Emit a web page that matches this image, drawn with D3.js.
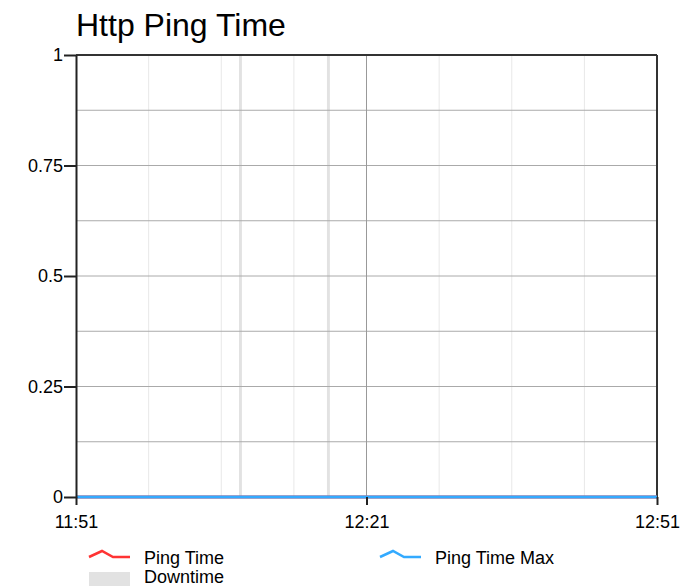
<!DOCTYPE html>
<html lang="en">
<head>
    <meta charset="utf-8">
    <title>Http Ping Time</title>
    <script src="https://d3js.org/d3.v7.min.js"></script>
    <style>
        body { margin: 0; background: #fff; }
        text { font-family: "Liberation Sans", Arial, sans-serif; fill: #000; }
        .axis path, .axis line { stroke: #222; }
    </style>
</head>
<body>
<svg id="chart" width="699" height="586"></svg>
<script>
// sample times (HH:MM) and values in seconds
const times = ["11:51", "11:56", "12:01", "12:06", "12:11", "12:16", "12:21",
               "12:26", "12:31", "12:36", "12:41", "12:46", "12:51"];
const pingTime    = [0, 0, 0, 0, 0, 0, 0, 0, 0, 0, 0, 0, 0];
const pingTimeMax = [0, 0, 0, 0, 0, 0, 0, 0, 0, 0, 0, 0, 0];

// downtime periods [start, end]
const downtime = [["12:07:50", "12:08:08"], ["12:16:55", "12:17:13"]];

const xTicks = ["11:51", "12:21", "12:51"];
const xMinorGrid = ["11:58:30", "12:06:00", "12:13:30", "12:28:30", "12:36:00", "12:43:30"];
const yTicks = [0, 0.25, 0.5, 0.75, 1];
const yGrid = [0.125, 0.25, 0.375, 0.5, 0.625, 0.75, 0.875];

const parseT = s => {
    const p = s.split(":").map(Number);
    return new Date(2020, 0, 1, p[0], p[1], p[2] || 0);
};

const margin = {top: 55, right: 42, bottom: 89, left: 76},
      width = 699 - margin.left - margin.right,
      height = 586 - margin.top - margin.bottom;

const svg = d3.select("#chart");
const chart = svg.append("g")
    .attr("transform", "translate(" + margin.left + "," + margin.top + ")");

const xScale = d3.scaleTime()
    .domain([parseT(xTicks[0]), parseT(xTicks[xTicks.length - 1])])
    .range([0, width]);
const yScale = d3.scaleLinear()
    .domain([0, 1])
    .range([height, 0]);

// title
svg.append("text")
    .attr("x", 76)
    .attr("y", 36)
    .style("font-size", "32px")
    .text("Http Ping Time");

// minor vertical grid
chart.selectAll(".vminor")
    .data(xMinorGrid)
    .join("line")
    .attr("x1", d => xScale(parseT(d)))
    .attr("x2", d => xScale(parseT(d)))
    .attr("y1", 0).attr("y2", height)
    .attr("stroke", "#e8e8e8")
    .attr("stroke-width", 1);

// downtime bands
chart.selectAll(".down")
    .data(downtime)
    .join("rect")
    .attr("x", d => xScale(parseT(d[0])))
    .attr("width", d => xScale(parseT(d[1])) - xScale(parseT(d[0])))
    .attr("y", 0).attr("height", height)
    .attr("fill", "#e2e2e2");

// horizontal grid
chart.selectAll(".hgrid")
    .data(yGrid)
    .join("line")
    .attr("x1", 0).attr("x2", width)
    .attr("y1", d => yScale(d)).attr("y2", d => yScale(d))
    .attr("stroke", "#aaa")
    .attr("stroke-width", 1);

// major vertical grid
chart.selectAll(".vmajor")
    .data(xTicks.slice(1, -1))
    .join("line")
    .attr("x1", d => xScale(parseT(d)))
    .attr("x2", d => xScale(parseT(d)))
    .attr("y1", 0).attr("y2", height)
    .attr("stroke", "#999")
    .attr("stroke-width", 1);

// frame top / right
chart.append("line")
    .attr("x1", 0).attr("x2", width).attr("y1", 0).attr("y2", 0)
    .attr("stroke", "#333").attr("stroke-width", 2);
chart.append("line")
    .attr("x1", width).attr("x2", width).attr("y1", 0).attr("y2", height)
    .attr("stroke", "#333").attr("stroke-width", 2);

// lines
const line = d3.line()
    .x((d, i) => xScale(parseT(times[i])))
    .y(d => yScale(d));

chart.append("path")
    .datum(pingTime)
    .attr("d", line)
    .attr("fill", "none")
    .attr("stroke", "#ff3333")
    .attr("stroke-width", 3);

chart.append("path")
    .datum(pingTimeMax)
    .attr("d", line)
    .attr("fill", "none")
    .attr("stroke", "#33aaff")
    .attr("stroke-width", 3);

// axes
const xAxis = chart.append("g")
    .attr("class", "axis axis-x")
    .attr("transform", "translate(0," + height + ")")
    .call(d3.axisBottom(xScale)
        .tickValues(xTicks.map(parseT))
        .tickFormat(d3.timeFormat("%H:%M"))
        .tickSizeInner(8).tickSizeOuter(0));
xAxis.select(".domain").remove();
xAxis.selectAll("line").attr("stroke-width", 2);
xAxis.selectAll("text").style("font-size", "18px").attr("y", 18).attr("dy", "0.71em");

const yAxis = chart.append("g")
    .attr("class", "axis axis-y")
    .call(d3.axisLeft(yScale)
        .tickValues(yTicks)
        .tickFormat(d3.format(""))
        .tickSizeInner(12).tickSizeOuter(0));
yAxis.select(".domain").attr("stroke-width", 2);
yAxis.selectAll("line").attr("stroke-width", 2);
yAxis.selectAll("text").style("font-size", "18px").attr("x", -13);

// legend
const legendItems = [
    {name: "Ping Time", color: "#ff3333", type: "line", x: 89, y: 552},
    {name: "Ping Time Max", color: "#33aaff", type: "line", x: 380, y: 552},
    {name: "Downtime", color: "#e2e2e2", type: "rect", x: 89, y: 572}
];
const legend = svg.append("g");
legendItems.forEach(it => {
    const g = legend.append("g").attr("transform", "translate(" + it.x + "," + it.y + ")");
    if (it.type === "line") {
        g.append("path")
            .attr("d", "M0,5 L13,-1 L24,5 L41,5")
            .attr("fill", "none")
            .attr("stroke", it.color)
            .attr("stroke-width", 2.5);
        g.append("text").attr("x", 55).attr("y", 12).style("font-size", "18px").text(it.name);
    } else {
        g.append("rect")
            .attr("x", 0).attr("y", 0).attr("width", 41).attr("height", 16)
            .attr("fill", it.color);
        g.append("text").attr("x", 55).attr("y", 11).style("font-size", "18px").text(it.name);
    }
});
</script>
</body>
</html>
